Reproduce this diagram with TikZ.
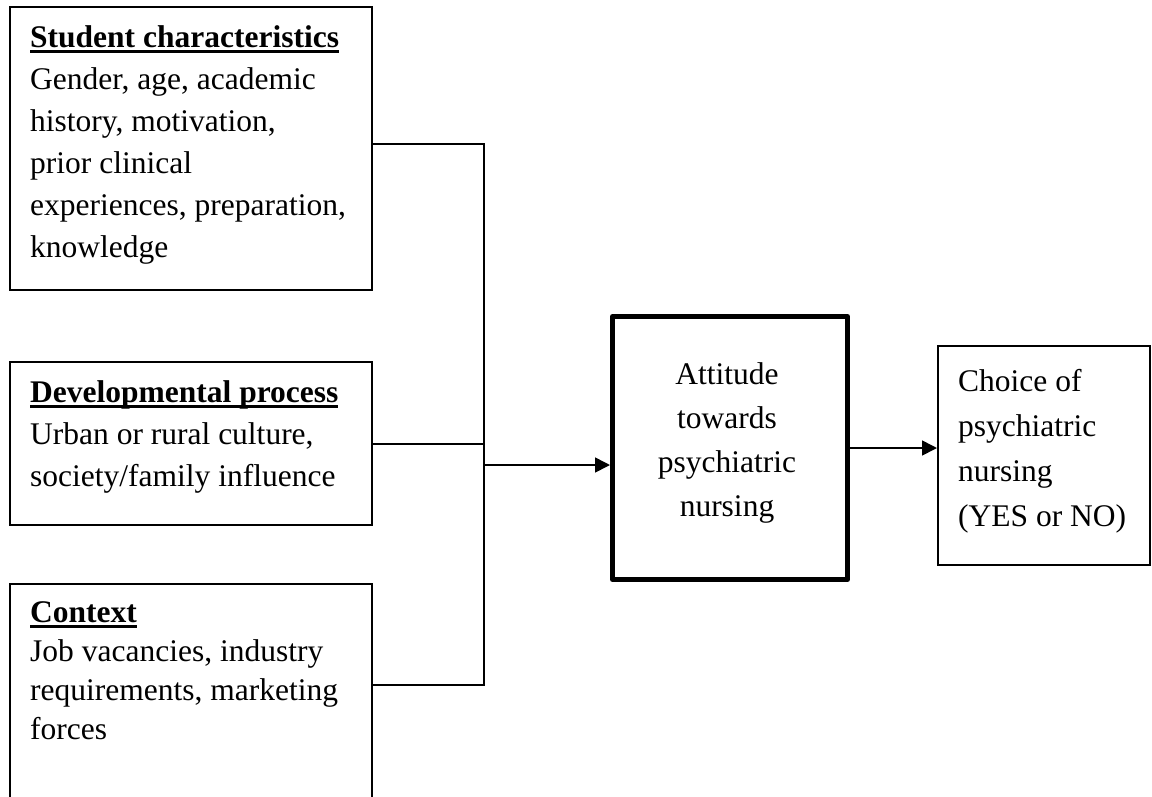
\documentclass[tikz,border=0pt]{standalone}
\usepackage{fontspec}
\setmainfont{Liberation Serif}
\usetikzlibrary{arrows.meta}
\newcommand{\hd}[1]{\setbox0\hbox{\bfseries #1}\rlap{\rule[-6pt]{\wd0}{3pt}}\box0}
\tikzset{
 box/.style={draw,line width=1.6pt,anchor=north west,inner sep=0},
 txt/.style={anchor=base west,inner sep=0,text width=#1,align=flush left,font=\fontsize{31.5}{42}\selectfont},
 wire/.style={line width=1.6pt},
 arr/.style={line width=1.6pt,-{Triangle[length=15pt,width=15pt]}}
}
\begin{document}
\begin{tikzpicture}[x=1pt,y=-1pt]
\useasboundingbox(0,0)rectangle(1152,796);
\clip(0,0)rectangle(1152,796);
%boxes
\node[box,minimum width=362pt,minimum height=283pt](stud)at(9,6){};
\node[box,minimum width=362pt,minimum height=163pt](devel)at(9,361){};
\node[box,minimum width=362pt,minimum height=300pt](ctx)at(9,583){};
\node[box,line width=5pt,line join=round,minimum width=235pt,minimum height=263pt](att)at(610,314){};
\node[box,minimum width=212pt,minimum height=219pt](choice)at(937,345){};
%texts
\node[txt=335pt](studtxt)at(30,47){\hd{Student characteristics}\\Gender, age, academic\\history, motivation,\\prior clinical\\experiences, preparation,\\knowledge};
\node[txt=335pt](develtxt)at(30,402){\hd{Developmental process}\\Urban or rural culture,\\society/family influence};
\node[txt=335pt,font=\fontsize{31.5}{39}\selectfont](ctxtxt)at(30,622){\hd{Context}\\Job vacancies, industry\\requirements, marketing\\forces};
\node[txt=220pt,align=flush center,anchor=base,font=\fontsize{31.5}{44}\selectfont](atttxt)at(727,384){Attitude\\towards\\psychiatric\\nursing};
\node[txt=185pt,font=\fontsize{31.5}{45}\selectfont](choicetxt)at(958,391){Choice of\\psychiatric\\nursing\\(YES or NO)};
%lines
\coordinate(top)at(484,144);
\coordinate(mid)at(484,444);
\coordinate(bot)at(484,685);
\coordinate(jin)at(484,465);
\draw[wire](top-|stud.east)--(top)--(bot)--(bot-|ctx.east);
\draw[wire](mid-|devel.east)--(mid);
\draw[arr](jin)--(jin-|att.west);
\draw[arr](att.east)--(att.east-|choice.west);
\end{tikzpicture}
\end{document}
